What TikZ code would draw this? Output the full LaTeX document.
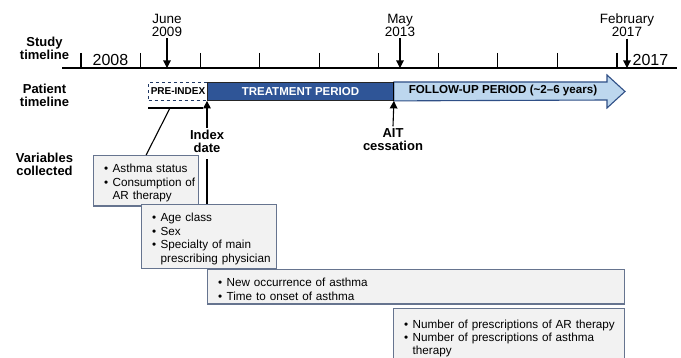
\documentclass[tikz,border=0pt]{standalone}
\usepackage{fontspec}
\setmainfont{Liberation Sans}
\usetikzlibrary{arrows.meta, positioning, calc}
\definecolor{treatblue}{HTML}{2F5597}
\definecolor{followblue}{HTML}{BDD7EE}
\definecolor{followedge}{HTML}{2F4F86}
\definecolor{boxedge}{HTML}{66748F}
\definecolor{boxfill}{HTML}{F2F2F2}
\definecolor{predash}{HTML}{1F3864}
\newcommand{\Bul}[1]{\par\noindent\makebox[16pt][l]{\hspace{7.5pt}\textbullet}%
  \parbox[t]{\dimexpr\hsize-16pt\relax}{\raggedright #1}}
\tikzset{
    hdr/.style={font=\fontsize{13}{13}\selectfont\bfseries, align=center, inner sep=2pt},
    datelbl/.style={font=\fontsize{13.5}{13}\selectfont, align=center, inner sep=2pt},
    yearlbl/.style={font=\fontsize{16}{16}\selectfont, inner sep=0pt},
    bar/.style={anchor=north west, minimum height=18pt, inner sep=0pt, font=\fontsize{11.5}{12}\selectfont\bfseries},
    varbox/.style={draw=boxedge, line width=1.3pt, fill=boxfill, anchor=north west, align=left,
        inner xsep=3pt, inner ysep=3.5pt, font=\fontsize{11.7}{13.6}\selectfont},
    pin/.style={line width=1.1pt, -{Triangle[width=7.5pt,length=7.5pt]}},
}
\begin{document}
\begin{tikzpicture}[x=1pt, y=-1pt]
    \useasboundingbox (0,0) rectangle (681,358);

    \node[hdr] (study) at (44.5,48.5) {Study\\timeline};
    \node[hdr] (patient) at (44.5,95) {Patient\\timeline};
    \node[hdr] (vars) at (44.5,164.5) {Variables\\collected};

    % study timeline
    \coordinate (tlL) at (62,68);
    \coordinate (tlR) at (677,68);
    \draw[line width=1.3pt] (tlL) -- (tlR);
    \foreach \i in {0,...,9}
      \draw[line width=1.2pt] (81+59.55*\i,53) -- (81+59.55*\i,68);
    \node[yearlbl] (y2008) at (110.5,60) {2008};
    \node[yearlbl] (y2017) at (650.5,60) {2017};

    \node[datelbl] (june) at (167,25) {June\\2009};
    \node[datelbl] (may) at (400,25) {May\\2013};
    \node[datelbl] (feb) at (627,25) {February\\2017};
    \draw[pin] (june) -- (june |- tlL);
    \draw[pin] (may) -- (may |- tlL);
    \draw[pin] (feb) -- (feb |- tlL);

    % patient timeline
    \node[bar, draw=predash, dashed, line width=1pt, fill=white, minimum width=59pt, font=\fontsize{10}{10}\selectfont\bfseries] (preidx) at (148,82) {PRE-INDEX};
    \node[bar, draw=black!85, line width=0.9pt, fill=treatblue, text=white, minimum width=186pt] (treat) at (207,82) {TREATMENT PERIOD};
    \draw[draw=followedge, line width=1.1pt, fill=followblue] (treat.north east) -- (607,82) -- (607,75)
      -- (625,91.5) -- (607,108) -- (607,100) -- (treat.south east) -- cycle;
    \node[font=\fontsize{11.6}{12}\selectfont\bfseries, inner sep=0pt] (follow) at (503,91) {FOLLOW-UP PERIOD (\textasciitilde2–6 years)};
    \draw[line width=1.1pt] (treat.north east) -- (treat.south east);

    \node[hdr] (idx) at (207,141) {Index\\date};
    \node[hdr] (ait) at (393,139.5) {AIT\\cessation};
    \draw[pin] (idx.north) -- (treat.south west);
    \draw[pin] (ait.north) -- (treat.south east);

    % variables collected
    \node[varbox, text width=99pt] (box1) at (93,155)
      {\Bul{Asthma status}\Bul{Consumption of\\AR therapy}};
    \node[varbox, text width=129pt] (box2) at (141,204)
      {\Bul{Age class}\Bul{Sex}\Bul{Specialty of main\\prescribing physician}};
    \node[varbox, text width=411pt] (box3) at (207,269)
      {\Bul{New occurrence of asthma}\Bul{Time to onset of asthma}};
    \node[varbox, text width=225pt, inner ysep=7pt, font=\fontsize{11.7}{13}\selectfont] (box4) at (393,308)
      {\Bul{Number of prescriptions of AR therapy}\Bul{Number of prescriptions of asthma\\therapy\rule[-8pt]{0pt}{8pt}}};

    \coordinate (brL) at (148,108);
    \coordinate (brR) at (203,108);
    \coordinate (brM) at (170,108);
    \draw[line width=1.1pt] (brL) -- (brR);
    \draw[line width=1.1pt] (brM) -- (box1.north);
    \draw[line width=1.1pt, shorten <=5pt] (idx.south) -- (idx.south |- box2.north);
\end{tikzpicture}
\end{document}
